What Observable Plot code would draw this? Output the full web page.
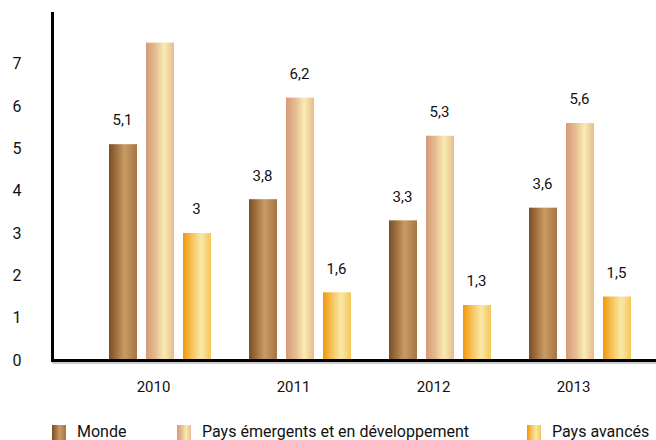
<!DOCTYPE html>
<html><head><meta charset="utf-8">
<script src="https://cdn.jsdelivr.net/npm/d3@7"></script>
<script src="https://cdn.jsdelivr.net/npm/@observablehq/plot@0.6"></script>
<style>
body{margin:0;background:#fff;font-family:Roboto,sans-serif;}
#wrap{position:relative;width:656px;height:440px;overflow:hidden;}
#wrap svg{position:absolute;left:0;top:0;}
.legend{position:absolute;top:424px;left:0;width:656px;height:20px;}
.item{position:absolute;top:0;display:flex;align-items:flex-start;font-size:16px;line-height:16px;font-weight:400;color:#111;white-space:nowrap;}
.sw{width:14px;height:16px;margin-top:1px;margin-right:11px;}
</style></head><body><div id="wrap"></div>
<script>
const years = ["2010", "2011", "2012", "2013"];
const series = ["Monde", "Pays émergents et en développement", "Pays avancés"];
const monde = [5.1, 3.8, 3.3, 3.6];
const emergents = [7.5, 6.2, 5.3, 5.6];
const avances = [3.0, 1.6, 1.3, 1.5];
const yTicks = [0, 1, 2, 3, 4, 5, 6, 7];
// value labels not printed in the reference
const hiddenLabels = ["2010|Pays émergents et en développement"];

const seriesValues = [monde, emergents, avances];
const rows = years.flatMap((yr, i) => series.map((s, j) => ({year: yr, series: s, value: seriesValues[j][i]})));
const fmt = v => String(v).replace(".", ",");

const grads = [
  {id: "gMonde", stops: [[0, "#7a4d26"], [0.4, "#b3844f"], [0.55, "#c99b63"], [1, "#a47645"]]},
  {id: "gEmer", stops: [[0, "#d69a78"], [0.35, "#e6be93"], [0.65, "#f8ecb0"], [1, "#e7bc8e"]]},
  {id: "gAvan", stops: [[0, "#f29608"], [0.3, "#f6c055"], [0.65, "#f8e8a8"], [1, "#f5c657"]]}
];
const offsets = [-37, 0, 37];
const band = 140, barW = 28;

const marks = [];
series.forEach((s, j) => {
  const c = band / 2 + offsets[j];
  marks.push(Plot.barY(rows.filter(d => d.series === s), {
    x: "year", y: "value", fill: `url(#${grads[j].id})`,
    insetLeft: c - barW / 2, insetRight: band - c - barW / 2
  }));
  marks.push(Plot.text(rows.filter(d => d.series === s && !hiddenLabels.includes(d.year + "|" + d.series)), {
    x: "year", y: "value", text: d => fmt(d.value), dx: offsets[j] - 1, dy: -24,
    fontSize: 15, fontWeight: 400, fill: "#111"
  }));
});

const chart = Plot.plot({
  width: 656, height: 420,
  marginLeft: 52, marginRight: 0, marginTop: 13, marginBottom: 60,
  style: {fontFamily: "Roboto, sans-serif", color: "#111", background: "#fff"},
  x: {type: "band", domain: years, range: [90, 650], padding: 0},
  y: {domain: [0, 8.2]},
  marks: [
    ...marks,
    Plot.axisY({ticks: yTicks, tickSize: 0, tickPadding: 31, fontSize: 16, tickFormat: d => String(d), label: null}),
    Plot.axisX({tickSize: 0, tickPadding: 21, fontSize: 15, fontWeight: 400, dx: -7, label: null}),
    Plot.ruleY([0], {dy: 2.5, stroke: "#9a9a9a", strokeWidth: 1.2}),
    Plot.ruleY([0], {stroke: "#000", strokeWidth: 3}),
    Plot.frame({anchor: "left", stroke: "#000", strokeWidth: 3})
  ]
});

const defs = d3.select(chart).insert("defs", ":first-child");
grads.forEach(g => {
  const lg = defs.append("linearGradient").attr("id", g.id).attr("x1", 0).attr("x2", 1).attr("y1", 0).attr("y2", 0);
  g.stops.forEach(([o, c]) => lg.append("stop").attr("offset", o).attr("stop-color", c));
});

const wrap = document.getElementById("wrap");
wrap.appendChild(chart);

const legend = document.createElement("div");
legend.className = "legend";
const lefts = [52, 177, 527];
series.forEach((s, j) => {
  const item = document.createElement("div");
  item.className = "item";
  item.style.left = lefts[j] + "px";
  const sw = document.createElement("div");
  sw.className = "sw";
  sw.style.background = "linear-gradient(to right, " + grads[j].stops.map(([o, c]) => `${c} ${o * 100}%`).join(", ") + ")";
  const tx = document.createElement("span");
  tx.textContent = s;
  item.appendChild(sw); item.appendChild(tx);
  legend.appendChild(item);
});
wrap.appendChild(legend);
</script></body></html>
